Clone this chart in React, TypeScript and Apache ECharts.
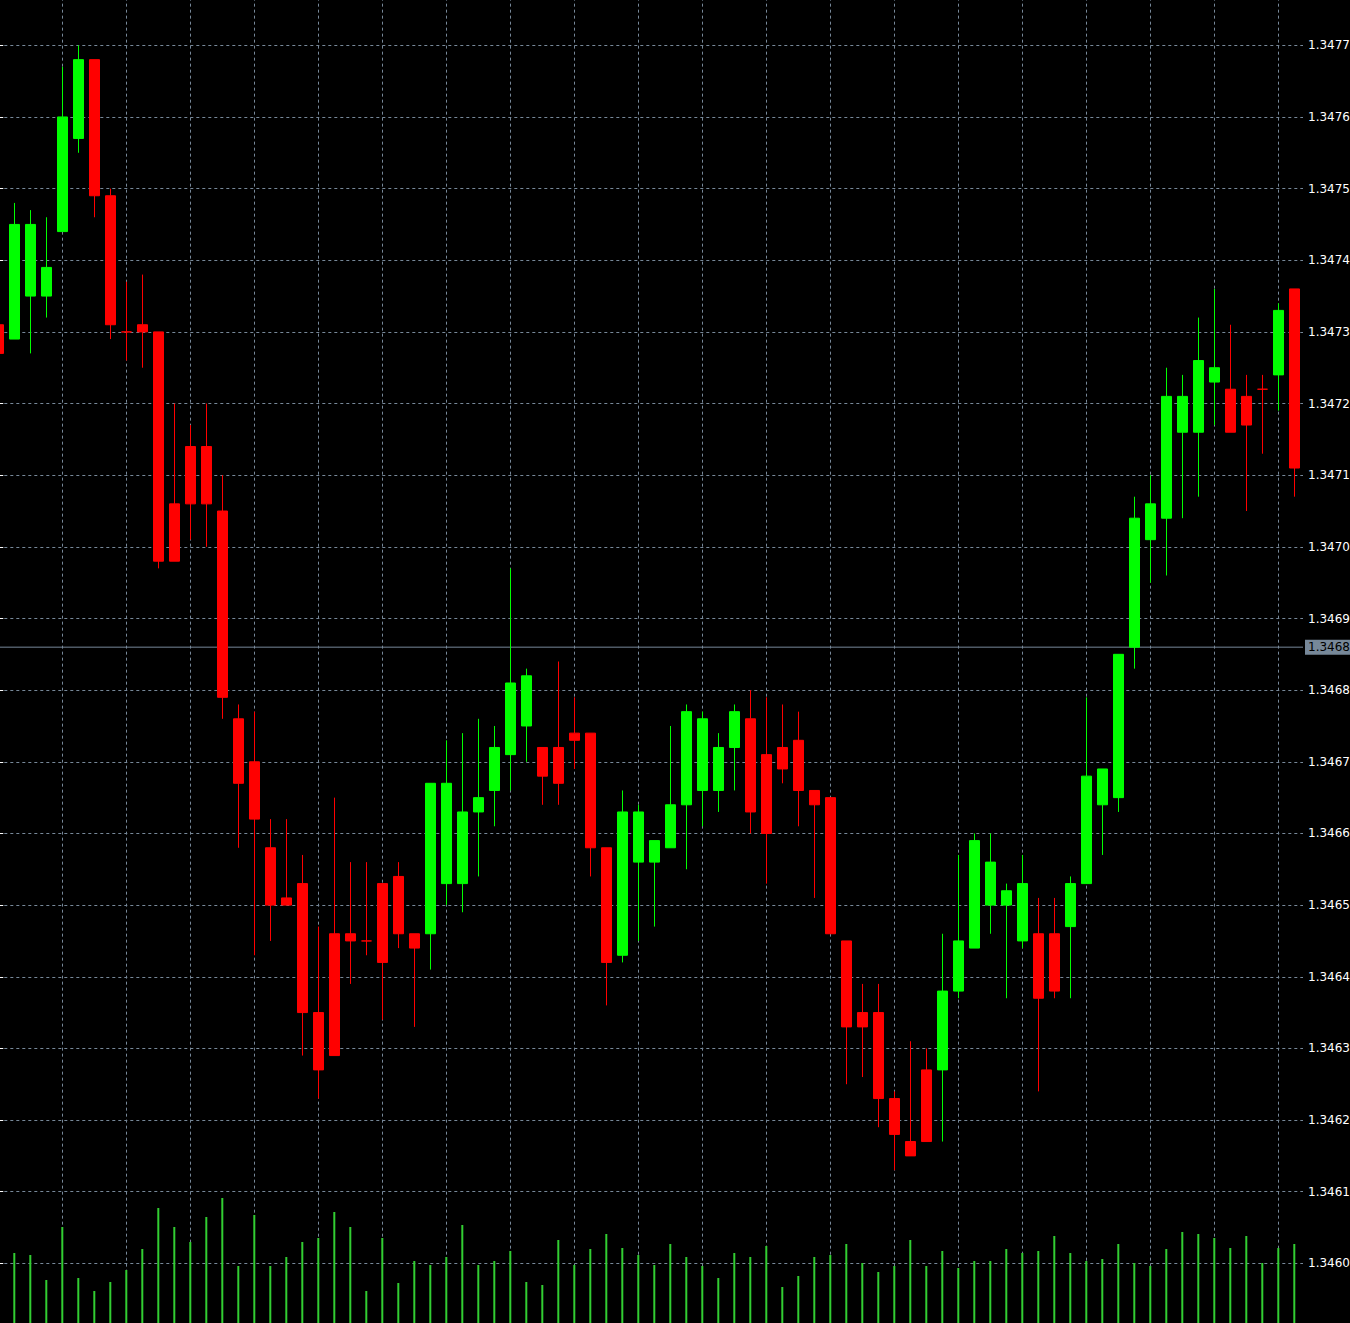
import React, { useEffect, useRef } from "react";
import * as echarts from "echarts";

// Candles, oldest first (the first one is cut by the left edge)
const opens = [
  1.34731, 1.34729, 1.34735, 1.34735, 1.34744, 1.34757, 1.34768, 1.34749, 1.3473, 1.34731,
  1.3473, 1.34706, 1.34714, 1.34714, 1.34705, 1.34676, 1.3467, 1.34658, 1.34651, 1.34653,
  1.34635, 1.34646, 1.34646, 1.34645, 1.34653, 1.34654, 1.34646, 1.34646, 1.34653, 1.34653,
  1.34663, 1.34666, 1.34671, 1.34675, 1.34672, 1.34672, 1.34674, 1.34674, 1.34658, 1.34643,
  1.34656, 1.34656, 1.34658, 1.34664, 1.34666, 1.34666, 1.34672, 1.34676, 1.34671, 1.34672,
  1.34673, 1.34666, 1.34665, 1.34645, 1.34635, 1.34635, 1.34623, 1.34617, 1.34627, 1.34627,
  1.34638, 1.34644, 1.3465, 1.3465, 1.34645, 1.34646, 1.34646, 1.34647, 1.34653, 1.34664,
  1.34665, 1.34686, 1.34701, 1.34704, 1.34716, 1.34716, 1.34723, 1.34722, 1.34721, 1.34722,
  1.34724, 1.34736,
];
const closes = [
  1.34727, 1.34745, 1.34745, 1.34739, 1.3476, 1.34768, 1.34749, 1.34731, 1.3473, 1.3473,
  1.34698, 1.34698, 1.34706, 1.34706, 1.34679, 1.34667, 1.34662, 1.3465, 1.3465, 1.34635,
  1.34627, 1.34629, 1.34645, 1.34645, 1.34642, 1.34646, 1.34644, 1.34667, 1.34667, 1.34663,
  1.34665, 1.34672, 1.34681, 1.34682, 1.34668, 1.34667, 1.34673, 1.34658, 1.34642, 1.34663,
  1.34663, 1.34659, 1.34664, 1.34677, 1.34676, 1.34672, 1.34677, 1.34663, 1.3466, 1.34669,
  1.34666, 1.34664, 1.34646, 1.34633, 1.34633, 1.34623, 1.34618, 1.34615, 1.34617, 1.34638,
  1.34645, 1.34659, 1.34656, 1.34652, 1.34653, 1.34637, 1.34638, 1.34653, 1.34668, 1.34669,
  1.34685, 1.34704, 1.34706, 1.34721, 1.34721, 1.34726, 1.34725, 1.34716, 1.34717, 1.34722,
  1.34733, 1.34711,
];
const lows = [
  1.34726, 1.34729, 1.34727, 1.34732, 1.34744, 1.34755, 1.34746, 1.34729, 1.34726, 1.34725,
  1.34697, 1.34698, 1.34701, 1.347, 1.34676, 1.34658, 1.34643, 1.34645, 1.3465, 1.34629,
  1.34623, 1.34629, 1.34639, 1.34643, 1.34634, 1.34644, 1.34633, 1.34641, 1.3465, 1.34649,
  1.34654, 1.34661, 1.34666, 1.3467, 1.34664, 1.34664, 1.34669, 1.34654, 1.34636, 1.34642,
  1.34645, 1.34647, 1.34658, 1.34655, 1.34661, 1.34663, 1.34666, 1.3466, 1.34653, 1.34667,
  1.34661, 1.34651, 1.34646, 1.34625, 1.34626, 1.34619, 1.34613, 1.34615, 1.34617, 1.34617,
  1.34637, 1.34644, 1.34646, 1.34637, 1.34644, 1.34624, 1.34637, 1.34637, 1.34653, 1.34657,
  1.34663, 1.34683, 1.34695, 1.34696, 1.34704, 1.34707, 1.34717, 1.34716, 1.34705, 1.34713,
  1.34719, 1.34707,
];
const highs = [
  1.34732, 1.34748, 1.34747, 1.34746, 1.34767, 1.3477, 1.34768, 1.3475, 1.34737, 1.34738,
  1.3473, 1.3472, 1.34717, 1.3472, 1.3471, 1.34678, 1.34677, 1.34662, 1.34662, 1.34657,
  1.34647, 1.34665, 1.34656, 1.34656, 1.34653, 1.34656, 1.34646, 1.34667, 1.34673, 1.34674,
  1.34676, 1.34675, 1.34697, 1.34683, 1.34672, 1.34684, 1.34679, 1.34674, 1.34658, 1.34666,
  1.34664, 1.34659, 1.34675, 1.34678, 1.34677, 1.34674, 1.34678, 1.3468, 1.34679, 1.34678,
  1.34677, 1.34666, 1.34665, 1.34645, 1.34639, 1.34639, 1.34624, 1.34631, 1.3463, 1.34646,
  1.34657, 1.3466, 1.3466, 1.34653, 1.34657, 1.34651, 1.34651, 1.34654, 1.34679, 1.34669,
  1.34685, 1.34707, 1.3471, 1.34725, 1.34724, 1.34732, 1.34736, 1.34731, 1.34724, 1.34724,
  1.34734, 1.34736,
];
// Tick volumes
const volumes = [
  80, 82, 80, 55, 108, 57, 44, 53, 65, 86,
  127, 108, 93, 118, 137, 69, 120, 69, 78, 93,
  97, 123, 108, 44, 97, 52, 74, 70, 78, 110,
  70, 74, 84, 53, 50, 95, 70, 86, 101, 87,
  80, 70, 91, 78, 69, 57, 82, 78, 89, 48,
  59, 78, 80, 91, 72, 63, 69, 95, 69, 84,
  67, 74, 74, 86, 82, 84, 99, 82, 74, 76,
  91, 72, 69, 86, 103, 101, 97, 87, 99, 72,
  87, 91,
];
const currentPrice = 1.34686;

const X_MIN = 0;
const X_MAX = 81.544;

const UP = "#00FF00";
const DOWN = "#FF0000";
const GRID = "#778899";
const VOL = "#32CD32";
const FONT = "DejaVu Sans";

// Price shown with four decimals, the fifth digit cut off (not rounded)
const fourDigits = (v: number) => (Math.floor(v * 10000 + 1e-6) / 10000).toFixed(4);

export default function App() {
  const ref = useRef<HTMLDivElement>(null);

  useEffect(() => {
    document.body.style.margin = "0";
    document.body.style.background = "#000";
    const chart = echarts.init(ref.current as HTMLDivElement, null, { renderer: "svg" });

    const candleData = opens.map((o, i) => {
      const item: any = { value: [i, o, closes[i], lows[i], highs[i]] };
      if (o === closes[i]) {
        item.itemStyle = { color: DOWN, color0: DOWN, borderColor: DOWN, borderColor0: DOWN };
      }
      return item;
    });

    chart.setOption({
      animation: false,
      backgroundColor: "#000000",
      grid: {
        left: -1.7,
        right: 47,
        top: -26.35,
        bottom: -12,
        containLabel: false,
        outerBoundsMode: "none",
      },
      xAxis: {
        type: "value",
        min: X_MIN,
        max: X_MAX,
        interval: 4,
        axisLine: { show: false },
        axisTick: { show: false },
        axisLabel: { show: false },
        splitLine: {
          show: true,
          showMaxLine: false,
          lineStyle: { color: GRID, type: [3, 3], width: 1 },
        },
      },
      yAxis: [
        {
          type: "value",
          position: "right",
          min: 1.3459,
          max: 1.3478,
          interval: 0.0001,
          axisLine: { show: true, lineStyle: { color: "#ffffff", width: 1 } },
          axisTick: { show: true, length: 5, lineStyle: { color: "#ffffff", width: 1 } },
          axisLabel: {
            color: "#ffffff",
            fontFamily: FONT,
            fontSize: 12,
            margin: 5,
            showMinLabel: false,
            showMaxLabel: false,
            formatter: (v: number) => v.toFixed(4),
          },
          splitLine: { show: true, lineStyle: { color: GRID, type: [3, 3], width: 1 } },
        },
        { type: "value", min: 0, max: 1361.35, show: false, splitLine: { show: false } },
      ],
      series: [
        {
          type: "line",
          xAxisIndex: 0,
          yAxisIndex: 0,
          z: 1,
          silent: true,
          symbol: "none",
          showSymbol: false,
          lineStyle: { color: GRID, width: 1, type: "solid" },
          data: [
            [X_MIN, currentPrice],
            [X_MAX, currentPrice],
          ],
          endLabel: {
            show: true,
            distance: 2,
            formatter: () => fourDigits(currentPrice),
            backgroundColor: GRID,
            color: "#000000",
            fontFamily: FONT,
            fontSize: 12,
            padding: [2, 0, 1, 3],
          },
        },
        {
          type: "bar",
          xAxisIndex: 0,
          yAxisIndex: 1,
          barWidth: 2,
          silent: true,
          itemStyle: { color: VOL },
          data: volumes.map((v, i) => [i, v]),
        },
        {
          type: "candlestick",
          xAxisIndex: 0,
          yAxisIndex: 0,
          z: 3,
          barWidth: 10,
          encode: { x: 0, y: [1, 2, 3, 4] },
          itemStyle: {
            color: UP,
            color0: DOWN,
            borderColor: UP,
            borderColor0: DOWN,
            borderColorDoji: DOWN,
            borderWidth: 1,
          },
          data: candleData,
        },
      ],
    });

    return () => chart.dispose();
  }, []);

  return (
    <div
      ref={ref}
      style={{ position: "absolute", left: 0, top: 0, width: 1350, height: 1323, background: "#000" }}
    />
  );
}
